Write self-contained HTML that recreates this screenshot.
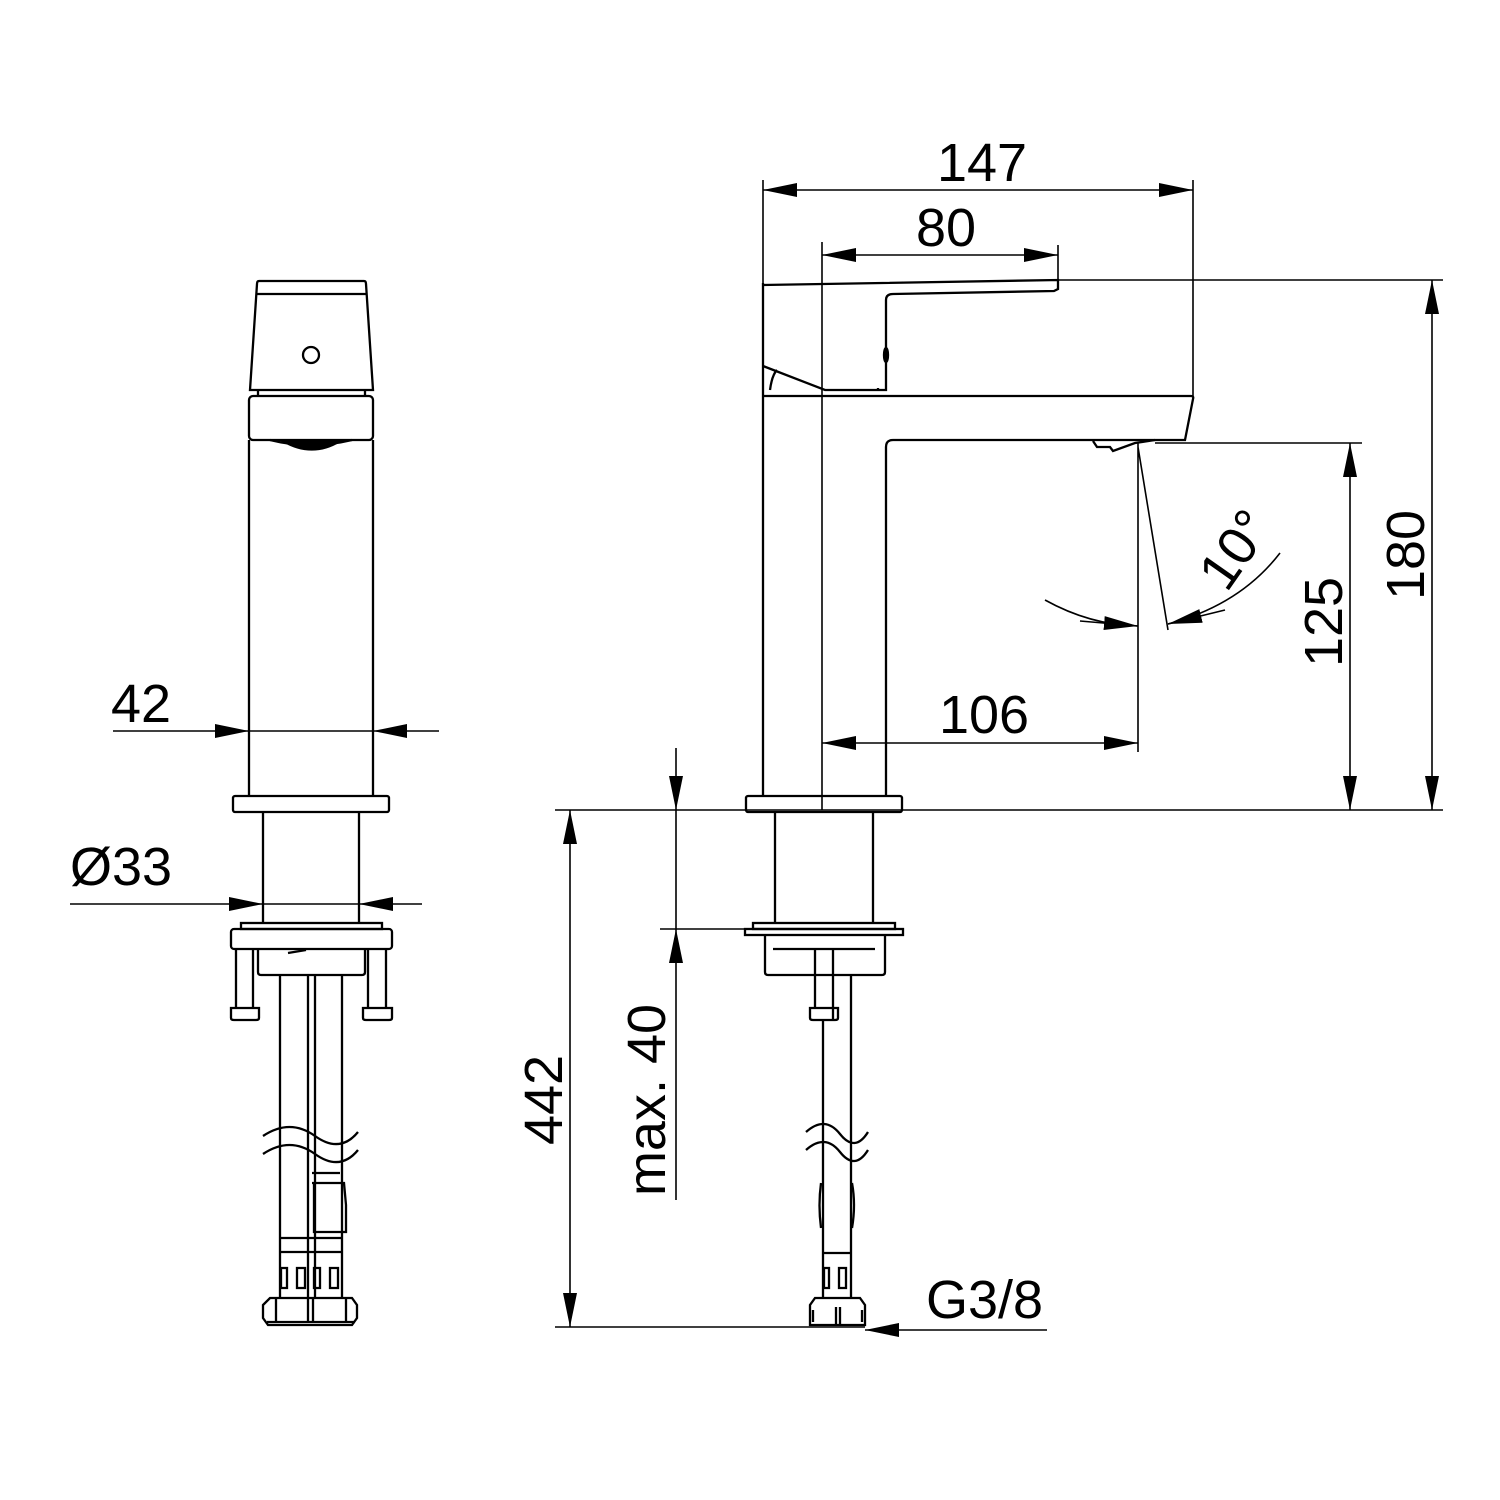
<!DOCTYPE html>
<html><head><meta charset="utf-8"><style>body{margin:0;background:#fff}svg{display:block}text{font-family:"Liberation Sans",sans-serif;font-size:54px;fill:#000}</style></head><body>
<svg width="1500" height="1500" viewBox="0 0 1500 1500" xmlns="http://www.w3.org/2000/svg">
<defs>
<marker id="a" viewBox="0 0 34 14" refX="34" refY="7" markerWidth="34" markerHeight="14" markerUnits="userSpaceOnUse" orient="auto"><path d="M0,0L34,7L0,14z" fill="#000"/></marker>
</defs>
<g fill="none" stroke="#000" stroke-width="2.3">
<path d="M259,281H364Q366,281 366,284L373,390H250L257,284Q257,281 259,281Z"/>
<line x1="256" y1="294" x2="367" y2="294"/>
<circle cx="311" cy="355" r="8"/>
<path d="M258,390V396M365,390V396"/>
<rect x="249" y="396" width="124" height="44" rx="4"/>
<path d="M283,441Q312,458 340,441Z" fill="#000"/>
<path d="M270,440Q310,450 352,440"/>
<path d="M249,440V796M373,440V796"/>
<rect x="233" y="796" width="156" height="16" rx="2"/>
<path d="M263,812V923M359,812V923"/>
<rect x="241" y="923" width="141" height="6"/>
<rect x="231" y="929" width="161" height="20" rx="3"/>
<path d="M258,949V972Q258,975 261,975H362Q365,975 365,972V949"/>
<path d="M288,953L306,950"/>
<path d="M236,949V1008M253,949V1008M368,949V1008M386,949V1008"/>
<path d="M231,1008H259V1018Q259,1020 256,1020H234Q231,1020 231,1018Z"/>
<path d="M363,1008H392V1018Q392,1020 389,1020H366Q363,1020 363,1018Z"/>
<path d="M280,975V1298M308,975V1298M315,975V1298M342,975V1298"/>
<path d="M263,1136Q290,1118 315,1136T358,1132"/>
<path d="M263,1154Q290,1136 315,1154T358,1150"/>
<path d="M312,1173H340M312,1183H344L346,1205V1232H314V1183"/>
<path d="M280,1238H342M280,1252H342"/>
<path d="M281,1268h6v20h-6zM297,1268h8v20h-8zM314,1268h6v20h-6zM330,1268h8v20h-8z"/>
<path d="M270,1298H352L357,1305V1318L352,1325H268L263,1318V1305Z"/>
<path d="M267,1322H355M276,1298V1322M346,1298V1322M308,1298V1322M313,1298V1322"/>
<g stroke-width="1.6">
<line x1="113" y1="731" x2="249" y2="731" marker-end="url(#a)"/>
<line x1="439" y1="731" x2="373" y2="731" marker-end="url(#a)"/>
<line x1="249" y1="731" x2="373" y2="731"/>
<line x1="70" y1="904" x2="263" y2="904" marker-end="url(#a)"/>
<line x1="422" y1="904" x2="359" y2="904" marker-end="url(#a)"/>
<line x1="263" y1="904" x2="359" y2="904"/>
</g>
<path d="M763,283V796M886,447V796"/>
<line x1="822" y1="242" x2="822" y2="810" stroke-width="1.6"/>
<path d="M763,285L1058,280V289L1054,291L893,294Q886,294 886,300V390H825L763,366"/>
<path d="M770,390Q772,375 777,370M878,388V390"/>
<ellipse cx="886" cy="355" rx="2" ry="7"/>
<path d="M763,396H1191Q1194,396 1193,399L1185,440H893Q886,440 886,447"/>
<path d="M1093,441L1097,447H1110L1113,451L1135,443L1155,440"/>
<rect x="746" y="796" width="156" height="16" rx="2"/>
<path d="M775,812V923M873,812V923"/>
<rect x="753" y="923" width="142" height="6"/>
<rect x="745" y="929" width="158" height="6"/>
<path d="M765,935V972Q765,975 768,975H882Q885,975 885,972V935"/>
<path d="M773,949H875"/>
<path d="M815,949V1008M833,949V1020"/>
<path d="M851,975V1298M823,1020V1298"/>
<path d="M810,1008H838V1018Q838,1020 835,1020H813Q810,1020 810,1018Z"/>
<path d="M806,1132Q825,1115 840,1134T868,1132"/>
<path d="M806,1150Q825,1133 840,1152T868,1150"/>
<path d="M821,1183Q818,1205 821,1228M852,1183Q856,1205 852,1228"/>
<path d="M823,1253H851"/>
<path d="M824,1268h5v20h-5zM839,1268h7v20h-7z"/>
<path d="M815,1298H860L865,1305V1325H810V1305Z"/>
<path d="M813,1310V1322M836,1307V1325M840,1307V1325M862,1310V1322"/>
<g stroke-width="1.6">
<path d="M763,180V283M1193,180V396M1058,245V280"/>
<line x1="980" y1="190" x2="763" y2="190" marker-end="url(#a)"/>
<line x1="980" y1="190" x2="1193" y2="190" marker-end="url(#a)"/>
<line x1="940" y1="255" x2="822" y2="255" marker-end="url(#a)"/>
<line x1="940" y1="255" x2="1058" y2="255" marker-end="url(#a)"/>
<path d="M1058,280H1443M1155,443H1362M555,810H1443"/>
<line x1="1432" y1="545" x2="1432" y2="280" marker-end="url(#a)"/>
<line x1="1432" y1="545" x2="1432" y2="810" marker-end="url(#a)"/>
<line x1="1350" y1="620" x2="1350" y2="443" marker-end="url(#a)"/>
<line x1="1350" y1="620" x2="1350" y2="810" marker-end="url(#a)"/>
<path d="M1138,443V752M1138,447L1168,630"/>
<line x1="980" y1="743" x2="822" y2="743" marker-end="url(#a)"/>
<line x1="980" y1="743" x2="1138" y2="743" marker-end="url(#a)"/>
<path d="M1045,600Q1090,625 1138,626"/>
<path d="M1168,624Q1240,605 1280,553"/>
<line x1="1080" y1="621" x2="1138" y2="626" marker-end="url(#a)"/>
<line x1="1225" y1="610" x2="1168" y2="624" marker-end="url(#a)"/>
<line x1="570" y1="1070" x2="570" y2="810" marker-end="url(#a)"/>
<line x1="570" y1="1070" x2="570" y2="1327" marker-end="url(#a)"/>
<line x1="676" y1="748" x2="676" y2="810" marker-end="url(#a)"/>
<line x1="676" y1="1200" x2="676" y2="929" marker-end="url(#a)"/>
<path d="M676,810V929M660,929H745M555,1327H865"/>
<line x1="1047" y1="1330" x2="865" y2="1330" marker-end="url(#a)"/>
</g>
</g>
<text x="111" y="722">42</text>
<text x="70" y="885">Ø33</text>
<text x="982" y="181" text-anchor="middle">147</text>
<text x="946" y="246" text-anchor="middle">80</text>
<text x="984" y="733" text-anchor="middle">106</text>
<text x="926" y="1318">G3/8</text>
<text transform="translate(1424,555) rotate(-90)" text-anchor="middle">180</text>
<text transform="translate(1342,622) rotate(-90)" text-anchor="middle">125</text>
<text transform="translate(562,1100) rotate(-90)" text-anchor="middle">442</text>
<text transform="translate(665,1100) rotate(-90)" text-anchor="middle">max. 40</text>
<text transform="translate(1250,560) rotate(-55)" text-anchor="middle">10°</text>
</svg>
</body></html>
